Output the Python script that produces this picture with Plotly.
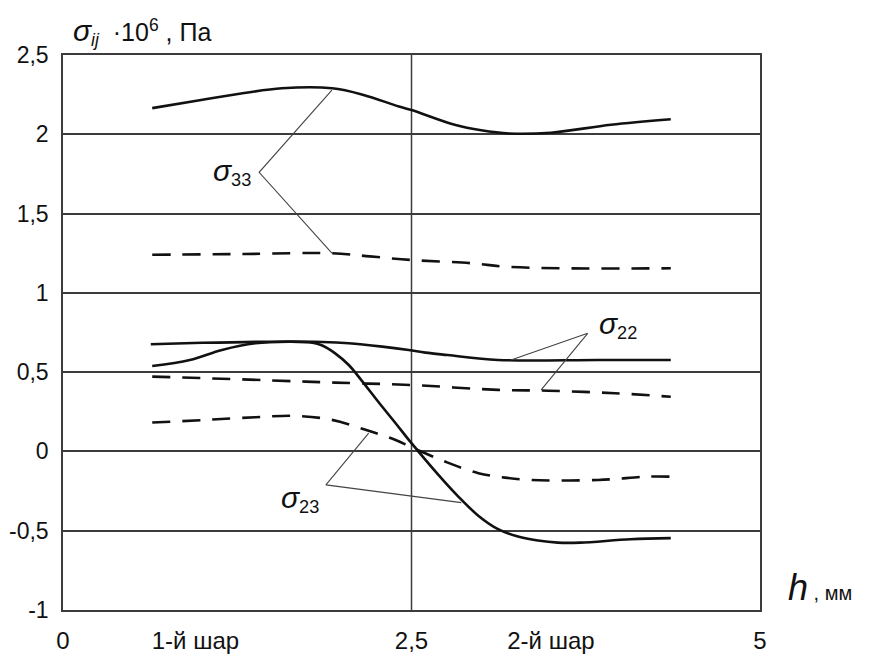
import plotly.graph_objects as go

# ---- data ----
s33_solid_x = [0.64, 0.98, 1.30, 1.57, 1.93, 2.15, 2.41, 2.50, 2.81, 3.00, 3.20, 3.50, 3.93, 4.36]
s33_solid_y = [2.165, 2.215, 2.26, 2.29, 2.29, 2.25, 2.175, 2.153, 2.06, 2.025, 2.005, 2.01, 2.06, 2.095]

s33_dash_x = [0.64, 1.30, 1.93, 2.20, 2.50, 2.93, 3.17, 3.60, 4.36]
s33_dash_y = [1.24, 1.245, 1.25, 1.23, 1.207, 1.187, 1.165, 1.155, 1.155]

s22_solid_x = [0.63, 1.00, 1.50, 1.86, 2.05, 2.29, 2.48, 2.60, 2.76, 3.12, 3.84, 4.36]
s22_solid_y = [0.676, 0.685, 0.692, 0.69, 0.682, 0.661, 0.64, 0.623, 0.608, 0.577, 0.577, 0.577]

s22_dash_x = [0.64, 1.26, 1.74, 2.10, 2.50, 3.12, 3.48, 3.96, 4.36]
s22_dash_y = [0.472, 0.455, 0.44, 0.43, 0.419, 0.388, 0.383, 0.367, 0.345]

s23_solid_x = [0.64, 0.91, 1.14, 1.38, 1.62, 1.76, 1.86, 1.95, 2.05, 2.14, 2.26, 2.386, 2.50,
               2.693, 2.836, 2.979, 3.121, 3.264, 3.407, 3.55, 3.71, 4.07, 4.36]
s23_solid_y = [0.539, 0.577, 0.64, 0.682, 0.692, 0.688, 0.668, 0.62, 0.545, 0.45, 0.315, 0.178, 0.052,
               -0.148, -0.285, -0.405, -0.49, -0.537, -0.562, -0.575, -0.575, -0.554, -0.547]

s23_dash_x = [0.64, 1.03, 1.38, 1.67, 1.93, 2.17, 2.386, 2.50, 2.74, 2.98, 3.17, 3.36, 3.84, 4.19, 4.36]
s23_dash_y = [0.182, 0.199, 0.216, 0.224, 0.199, 0.136, 0.072, 0.026, -0.064, -0.137, -0.165, -0.18, -0.18, -0.159, -0.159]

# leader lines: end1 -> vertex -> end2
lead33_x = [1.929, 1.407, 1.929]
lead33_y = [2.279, 1.760, 1.25]
lead22_x = [3.214, 3.764, 3.43]
lead22_y = [0.577, 0.745, 0.388]
lead23_x = [2.193, 1.886, 2.857]
lead23_y = [0.115, -0.211, -0.323]

y_ticks = [-1, -0.5, 0, 0.5, 1, 1.5, 2, 2.5]
y_labels = ["-1", "-0,5", "0", "0,5", "1", "1,5", "2", "2,5"]
x_ticks = [0, 0.95, 2.5, 3.5, 5]
x_labels = ["0", "1-й шар", "2,5", "2-й шар", "5"]

FONT = "Liberation Sans"
INK = "#111111"
GRID = "#3c3c3c"

fig = go.Figure()

def curve(x, y, dash=None):
    fig.add_trace(go.Scatter(
        x=x, y=y, mode="lines",
        line=dict(color=INK, width=2.6, shape="spline", smoothing=1.0,
                  dash=dash if dash else "solid"),
        hoverinfo="skip", showlegend=False))

curve(s33_solid_x, s33_solid_y)
curve(s33_dash_x, s33_dash_y, "18px,12px")
curve(s22_solid_x, s22_solid_y)
curve(s22_dash_x, s22_dash_y, "18px,12px")
curve(s23_solid_x, s23_solid_y)
curve(s23_dash_x, s23_dash_y, "18px,12px")

for lx, ly in [(lead33_x, lead33_y), (lead22_x, lead22_y), (lead23_x, lead23_y)]:
    fig.add_trace(go.Scatter(x=lx, y=ly, mode="lines",
                             line=dict(color="#444444", width=1.1),
                             hoverinfo="skip", showlegend=False))

fig.add_shape(type="line", xref="x", yref="paper", x0=2.5, x1=2.5, y0=0, y1=1,
              line=dict(color=GRID, width=1.5), layer="below")

fig.update_layout(
    width=869, height=657,
    margin=dict(l=55, r=117, t=47, b=55),
    paper_bgcolor="white", plot_bgcolor="white",
    font=dict(family=FONT, size=23, color=INK),
    xaxis=dict(range=[0, 5], tickvals=x_ticks, ticktext=x_labels, automargin=False,
               showgrid=False, zeroline=False, showline=True, mirror=True,
               linecolor=GRID, linewidth=1.5, ticks="", ticklabelstandoff=8,
               tickfont=dict(family=FONT, size=24, color=INK)),
    yaxis=dict(range=[-1, 2.5], tickvals=y_ticks, ticktext=y_labels, automargin=False,
               showgrid=True, gridcolor=GRID, gridwidth=1.5,
               zeroline=False, showline=True, mirror=True,
               linecolor=GRID, linewidth=1.5, ticks="", ticklabelstandoff=8,
               tickfont=dict(family=FONT, size=23, color=INK)),
)

fig.add_annotation(xref="paper", yref="paper", x=0.012, y=1.005, xanchor="left", yanchor="bottom",
                   text="<span style='font-size:30px'><i>σ</i></span><sub><i>ij</i></sub>  ·10<sup>6</sup> , Па",
                   showarrow=False, font=dict(family=FONT, size=25, color=INK))
fig.add_annotation(xref="paper", yref="paper", x=1.038, y=0.0, xanchor="left", yanchor="bottom",
                   text="<span style='font-size:36px'><i>h</i></span> , мм", showarrow=False,
                   font=dict(family=FONT, size=20, color=INK))

fig.add_annotation(x=1.36, y=1.76, xref="x", yref="y", xanchor="right", yanchor="middle",
                   text="<span style='font-size:30px'><i>σ</i></span><sub>33</sub>", showarrow=False,
                   font=dict(family=FONT, size=26, color=INK))
fig.add_annotation(x=3.83, y=0.80, xref="x", yref="y", xanchor="left", yanchor="middle",
                   text="<span style='font-size:30px'><i>σ</i></span><sub>22</sub>", showarrow=False,
                   font=dict(family=FONT, size=26, color=INK))
fig.add_annotation(x=1.55, y=-0.30, xref="x", yref="y", xanchor="left", yanchor="middle",
                   text="<span style='font-size:30px'><i>σ</i></span><sub>23</sub>", showarrow=False,
                   font=dict(family=FONT, size=26, color=INK))

fig.write_html("out.html")
